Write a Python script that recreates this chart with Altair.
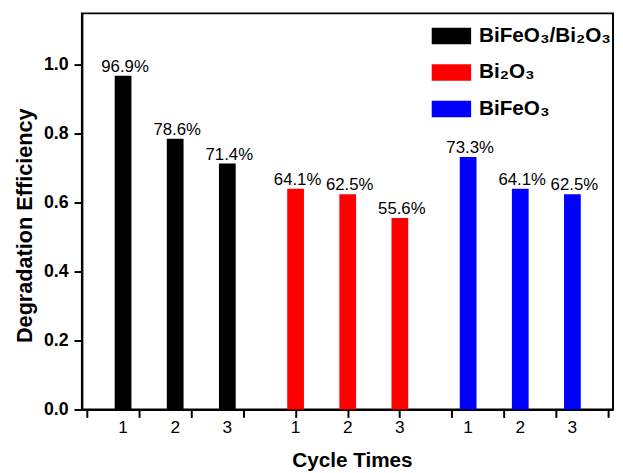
import altair as alt
import pandas as pd

# ---- data ----
samples = ["BiFeO₃/Bi₂O₃", "Bi₂O₃", "BiFeO₃"]
colors = ["#000000", "#ff0000", "#0000ff"]
cycles = [1, 2, 3]
eff_composite = [0.969, 0.786, 0.714]
eff_bi2o3 = [0.641, 0.625, 0.556]
eff_bifeo3 = [0.733, 0.641, 0.625]
y_ticks = [round(i * 0.1, 1) for i in range(12)]
x_ticks = list(range(21))

rows = []
for g, (name, vals) in enumerate(zip(samples, [eff_composite, eff_bi2o3, eff_bifeo3])):
    for c, v in zip(cycles, vals):
        rows.append({"sample": name, "g": g, "cycle": c, "value": v})
df = pd.DataFrame(rows)

FONT = "Liberation Sans, Arial, DejaVu Sans, sans-serif"
W, H = 539, 402

base = alt.Chart(df).transform_calculate(
    pos="1.39 + 6.62 * datum.g + 2 * (datum.cycle - 1)",
    pct="format(datum.value, '.1%')",
    cyc="'' + datum.cycle",
)

xscale = alt.Scale(domain=[0, 20], nice=False, zero=False)
yscale = alt.Scale(domain=[0, 1.15], nice=False)

major_y = "round(datum.value * 10) % 2 == 0"
major_x = "datum.value % 2 == 0"

bars = base.mark_bar(size=17).encode(
    x=alt.X(
        "pos:Q",
        scale=xscale,
        axis=alt.Axis(
            values=x_ticks,
            labels=False,
            grid=False,
            title="Cycle Times",
            titleFontSize=21,
            titleFontWeight="bold",
            titleX=274,
            titleY=58,
            titleAlign="center",
            titleBaseline="alphabetic",
            tickSize={"condition": {"test": major_x, "value": 8}, "value": 4},
            tickWidth=2,
            tickColor="black",
            domainWidth=2,
            domainColor="black",
        ),
    ),
    y=alt.Y(
        "value:Q",
        scale=yscale,
        axis=alt.Axis(
            values=y_ticks,
            labelExpr=f"{major_y} ? format(datum.value, '.1f') : ''",
            grid=False,
            title="Degradation Efficiency",
            titleFontSize=22,
            titleFontWeight="bold",
            titleX=-51,
            titleY=215,
            titleAlign="center",
            titleBaseline="alphabetic",
            labelFontSize=18,
            labelFontWeight="bold",
            labelColor="black",
            labelPadding=6,
            tickSize={"condition": {"test": major_y, "value": 8}, "value": 4},
            tickWidth=2,
            tickColor="black",
            domainWidth=2,
            domainColor="black",
        ),
    ),
    color=alt.Color(
        "sample:N",
        scale=alt.Scale(domain=samples, range=colors),
        legend=alt.Legend(
            title=None,
            orient="none",
            legendX=355,
            legendY=3,
            symbolType="M-1,-0.42H1V0.42H-1Z",
            symbolSize=1600,
            symbolStrokeWidth=0,
            symbolOpacity=1,
            labelFontSize=21,
            labelFontWeight="bold",
            labelOffset=8,
            rowPadding=7,
            labelColor="black",
        ),
    ),
)

values_txt = base.mark_text(
    baseline="alphabetic", fontSize=17, dx=2, dy=-4, color="black"
).encode(
    x=alt.X("pos:Q", scale=xscale),
    y=alt.Y("value:Q", scale=yscale),
    text="pct:N",
)

cycle_txt = base.mark_text(
    baseline="alphabetic", fontSize=17.5, color="black"
).encode(
    x=alt.X("pos:Q", scale=xscale),
    y=alt.value(426),
    text="cyc:N",
)

chart = (
    alt.layer(bars, values_txt, cycle_txt)
    .properties(
        width=W,
        height=H,
        autosize=alt.AutoSizeParams(type="none"),
        padding={"left": 75, "top": 2, "right": 2, "bottom": 60},
    )
    .configure(font=FONT)
    .configure_view(stroke="black", strokeWidth=2)
)

chart.save("out.html", embed_options={"renderer": "svg", "actions": False})
